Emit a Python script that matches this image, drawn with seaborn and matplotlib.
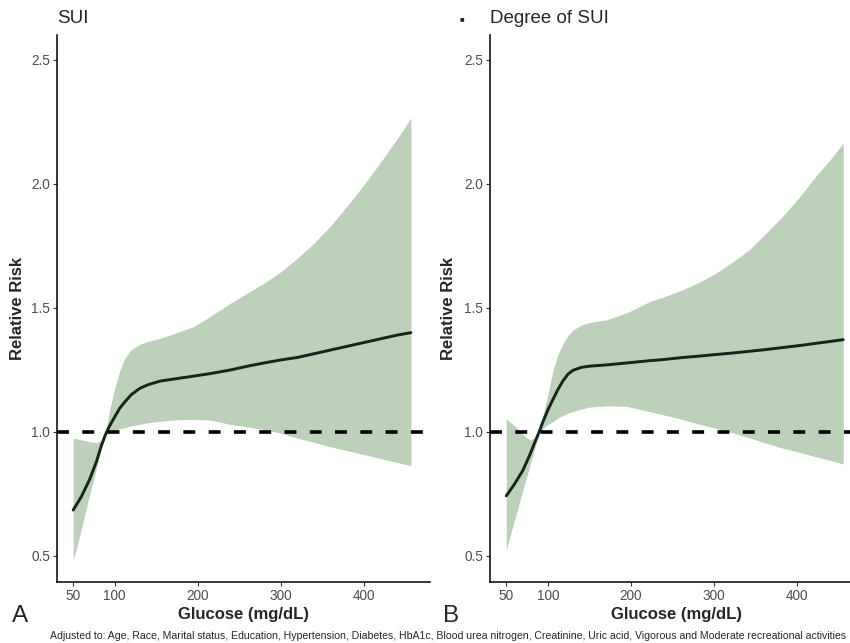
import pandas as pd
import matplotlib.pyplot as plt
import seaborn as sns

# glucose grid and fitted relative risk
glucose_a = [50, 60, 70, 78, 84, 89, 94, 100, 106, 112, 120, 130, 140, 155, 175,
             195, 215, 240, 260, 280, 300, 320, 340, 360, 380, 400, 420, 440, 457]
rr_a = [0.685, 0.74, 0.81, 0.88, 0.945, 0.99, 1.025, 1.06, 1.095, 1.12, 1.15, 1.175, 1.19,
        1.205, 1.215, 1.225, 1.235, 1.25, 1.265, 1.278, 1.29, 1.30, 1.315, 1.33, 1.345,
        1.36, 1.375, 1.39, 1.40]
lower_a = [0.48, 0.61, 0.75, 0.855, 0.935, 0.988, 1.002, 1.008, 1.012, 1.017, 1.024,
           1.031, 1.037, 1.043, 1.049, 1.051, 1.048, 1.03, 1.02, 1.01, 0.995, 0.975,
           0.958, 0.94, 0.925, 0.909, 0.893, 0.877, 0.864]
upper_a = [0.975, 0.968, 0.96, 0.957, 0.965, 1.0, 1.09, 1.175, 1.245, 1.295, 1.332, 1.353,
           1.365, 1.378, 1.40, 1.425, 1.465, 1.52, 1.56, 1.60, 1.645, 1.70, 1.76, 1.83,
           1.91, 1.995, 2.085, 2.18, 2.265]

glucose_b = [50, 60, 70, 78, 84, 89, 94, 100, 106, 112, 118, 124, 130, 140, 150, 170,
             195, 222, 240, 262, 280, 302, 322, 342, 362, 382, 402, 422, 440, 455]
rr_b = [0.742, 0.79, 0.845, 0.905, 0.955, 0.995, 1.04, 1.088, 1.13, 1.17, 1.205, 1.232, 1.248,
        1.26, 1.265, 1.27, 1.278, 1.287, 1.292, 1.30, 1.305, 1.312, 1.318, 1.325, 1.332,
        1.34, 1.348, 1.357, 1.365, 1.372]
lower_b = [0.525, 0.645, 0.765, 0.86, 0.93, 0.99, 1.013, 1.03, 1.042, 1.055, 1.066,
           1.075, 1.082, 1.092, 1.10, 1.105, 1.103, 1.082, 1.068, 1.05, 1.033, 1.015,
           0.997, 0.976, 0.955, 0.935, 0.918, 0.90, 0.885, 0.871]
upper_b = [1.052, 1.025, 0.99, 0.968, 0.975, 1.0, 1.065, 1.15, 1.245, 1.31, 1.355, 1.388,
           1.41, 1.43, 1.441, 1.452, 1.48, 1.525, 1.545, 1.573, 1.60, 1.64, 1.685, 1.734,
           1.80, 1.868, 1.945, 2.03, 2.10, 2.164]

titles = ["SUI", "Degree of SUI"]
panel_letters = ["A", "B"]
x_ticks = [50, 100, 200, 300, 400]
y_ticks = [0.5, 1.0, 1.5, 2.0, 2.5]
footnote = ("Adjusted to: Age, Race, Marital status, Education, Hypertension, Diabetes, HbA1c, "
            "Blood urea nitrogen, Creatinine, Uric acid, Vigorous and Moderate recreational activities")

sns.set_theme(style="ticks")
plt.rcParams['font.family'] = ['Liberation Sans', 'DejaVu Sans']

band_color = "#bdd0b9"
line_color = "#15251a"

fig = plt.figure(figsize=(8.5, 6.43), dpi=100)
W, H = 850, 643
ax_a = fig.add_axes([57 / W, 1 - 582 / H, 373 / W, 547 / H])
ax_b = fig.add_axes([490 / W, 1 - 582 / H, 374 / W, 547 / H])

panels = [
    (ax_a, glucose_a, rr_a, lower_a, upper_a, -0.086),
    (ax_b, glucose_b, rr_b, lower_b, upper_b, -0.092),
]

for i, (ax, gx, fit, lo, up, ylab_x) in enumerate(panels):
    df = pd.DataFrame({"glucose": gx, "rr": fit, "lower": lo, "upper": up})
    ax.fill_between(df["glucose"], df["lower"], df["upper"], color=band_color, lw=0)
    sns.lineplot(data=df, x="glucose", y="rr", ax=ax, color=line_color, lw=2.1)
    ax.axhline(1.0, color="black", lw=2.6, linestyle=(0, (3.3, 3.7)))

    ax.set_xlim(30.5, 480)
    ax.set_ylim(0.395, 2.6)
    ax.set_xticks(x_ticks)
    ax.set_yticks(y_ticks)
    ax.set_yticklabels([f"{v:.1f}" for v in y_ticks])
    ax.tick_params(axis="both", labelsize=9.8, labelcolor="#4d4d4d", color="#333333",
                   length=2.6, width=0.8, pad=2.5)
    sns.despine(ax=ax)
    for side in ["left", "bottom"]:
        ax.spines[side].set_color("black")
        ax.spines[side].set_linewidth(1.1)

    ax.set_xlabel("Glucose (mg/dL)", fontsize=12, fontweight="bold", labelpad=3)
    ax.set_ylabel("Relative Risk", fontsize=12, fontweight="bold")
    ax.yaxis.set_label_coords(ylab_x, 0.5)
    ax.set_title(titles[i], loc="left", fontsize=13.5, pad=8.4)

fig.text(12 / W, 1 - 622 / H, panel_letters[0], fontsize=17.5, ha="left", va="baseline")
fig.text(443 / W, 1 - 622 / H, panel_letters[1], fontsize=17.5, ha="left", va="baseline")
fig.text(461.5 / W, 1 - 18.5 / H, "\u25a0", fontsize=3.5, family="DejaVu Sans",
         ha="center", va="center")
note = fig.text(50 / W, 1 - 639 / H, footnote, fontsize=7.9, ha="left", va="baseline")

# shrink the footnote so it spans the same width as in the original
fig.canvas.draw()
w = note.get_window_extent().width
note.set_fontsize(7.9 * 796 / w)

fig.savefig("out.png", dpi=100)
